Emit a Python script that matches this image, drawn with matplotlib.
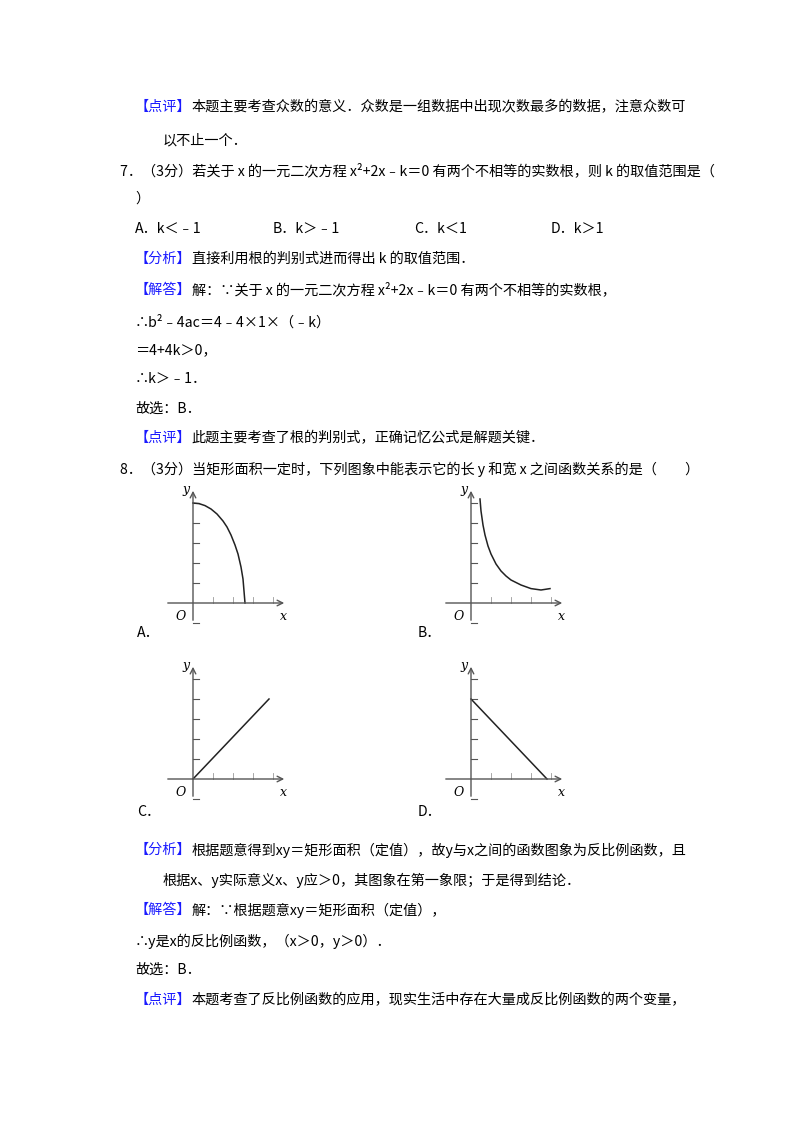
import matplotlib
matplotlib.use('Agg')
import matplotlib.pyplot as plt

plt.rcParams['font.family'] = ['Noto Sans CJK SC', 'DejaVu Sans']

W, H = 800, 1132
BLUE = '#1a1aff'
FS = 10.2

# --- text lines: (x px, y px, [(text, colour), ...]) ---
lines = [
    (135, 107, [('【点评】', BLUE), ('本题主要考查众数的意义．众数是一组数据中出现次数最多的数据，注意众数可', 'k')]),
    (163, 140, [('以不止一个．', 'k')]),
    (120, 171, [('7．（3分）若关于 x 的一元二次方程 x²+2x﹣k＝0 有两个不相等的实数根，则 k 的取值范围是（', 'k')]),
    (135, 199, [('）', 'k')]),
    (135, 259, [('【分析】', BLUE), ('直接利用根的判别式进而得出 k 的取值范围．', 'k')]),
    (135, 290, [('【解答】', BLUE), ('解：∵关于 x 的一元二次方程 x²+2x﹣k＝0 有两个不相等的实数根，', 'k')]),
    (135, 322, [('∴b²﹣4ac＝4﹣4×1×（﹣k）', 'k')]),
    (135, 350, [('＝4+4k＞0，', 'k')]),
    (135, 379, [('∴k＞﹣1．', 'k')]),
    (135, 409, [('故选：B．', 'k')]),
    (135, 438, [('【点评】', BLUE), ('此题主要考查了根的判别式，正确记忆公式是解题关键．', 'k')]),
    (120, 469, [('8．（3分）当矩形面积一定时，下列图象中能表示它的长 y 和宽 x 之间函数关系的是（　　）', 'k')]),
    (135, 850, [('【分析】', BLUE), ('根据题意得到xy＝矩形面积（定值），故y与x之间的函数图象为反比例函数，且', 'k')]),
    (163, 880, [('根据x、y实际意义x、y应＞0，其图象在第一象限；于是得到结论．', 'k')]),
    (135, 910, [('【解答】', BLUE), ('解：∵根据题意xy＝矩形面积（定值），', 'k')]),
    (135, 941, [('∴y是x的反比例函数，（x＞0，y＞0）．', 'k')]),
    (135, 970, [('故选：B．', 'k')]),
    (135, 1000, [('【点评】', BLUE), ('本题考查了反比例函数的应用，现实生活中存在大量成反比例函数的两个变量，', 'k')]),
]
options = [(135, 'A．k＜﹣1'), (273, 'B．k＞﹣1'), (414, 'C．k＜1'), (551, 'D．k＞1')]
graph_labels = [(137, 633, 'A．'), (418, 633, 'B．'), (137, 812, 'C．'), (418, 812, 'D．')]

# --- graph data (units: ticks) ---
curve_a_x = [0, 0.3, 0.6, 0.9, 1.2, 1.5, 1.7, 1.9, 2.1, 2.25, 2.4, 2.5, 2.6]
curve_a_y = [5.0, 4.97, 4.87, 4.7, 4.45, 4.1, 3.8, 3.4, 2.9, 2.45, 1.8, 1.2, 0.0]
curve_b_x = [0.45, 0.5, 0.6, 0.7, 0.85, 1.0, 1.25, 1.5, 1.75, 2.0, 2.5, 3.0, 3.5, 3.95]
curve_b_y = [5.2, 4.6, 3.9, 3.4, 2.85, 2.45, 1.95, 1.6, 1.35, 1.15, 0.9, 0.72, 0.65, 0.72]
line_c_x = [0, 3.8]
line_c_y = [0, 4.0]
line_d_x = [0, 3.8]
line_d_y = [4.0, 0]

fig = plt.figure(figsize=(W / 100, H / 100), dpi=100)
canvas = fig.add_axes([0, 0, 1, 1])
canvas.set_xlim(0, W)
canvas.set_ylim(H, 0)
canvas.axis('off')
fig.canvas.draw()
rend = fig.canvas.get_renderer()

for x, y, parts in lines:
    cx = x
    for txt, col in parts:
        t = canvas.text(cx, y, txt, color=col, fontsize=FS, va='center', ha='left')
        bb = t.get_window_extent(renderer=rend)
        cx += bb.width
for x, txt in options:
    canvas.text(x, 229, txt, fontsize=FS, va='center')
for x, y, txt in graph_labels:
    canvas.text(x, y, txt, fontsize=FS, va='center')

PX = 20.0  # pixels per unit


def graph(ox, oy, xs, ys):
    x0, x1, y0, y1 = -1.5, 4.8, -1.2, 6.0
    ax = fig.add_axes([(ox + x0 * PX) / W, (H - oy - (-y0) * PX) / H,
                       (x1 - x0) * PX / W, (y1 - y0) * PX / H])
    ax.set_xlim(x0, x1)
    ax.set_ylim(y0, y1)
    ax.axis('off')
    g = '#555555'
    ax.annotate('', xy=(4.7, 0), xytext=(-1.4, 0),
                arrowprops=dict(arrowstyle='->', color=g, lw=1))
    ax.annotate('', xy=(0, 5.75), xytext=(0, -1.0),
                arrowprops=dict(arrowstyle='->', color=g, lw=1))
    for i in range(1, 6):
        ax.plot([0, 0.3], [i, i], color=g, lw=0.8)
    ax.plot([0, 0.3], [-1, -1], color=g, lw=0.8)
    for i in range(1, 5):
        ax.plot([i, i], [0, 0.3], color='#999999', lw=0.6)
    ax.plot(xs, ys, color='#222222', lw=1.1)
    ax.text(-0.35, -0.35, 'O', style='italic', fontsize=9, ha='right', va='top', family='DejaVu Serif')
    ax.text(4.5, -0.35, 'x', style='italic', fontsize=9, ha='center', va='top', family='DejaVu Serif')
    ax.text(-0.15, 5.65, 'y', style='italic', fontsize=9, ha='right', va='center', family='DejaVu Serif')


graph(193, 603, curve_a_x, curve_a_y)
graph(471, 603, curve_b_x, curve_b_y)
graph(193, 779, line_c_x, line_c_y)
graph(471, 779, line_d_x, line_d_y)

fig.savefig('out.png', dpi=100)
